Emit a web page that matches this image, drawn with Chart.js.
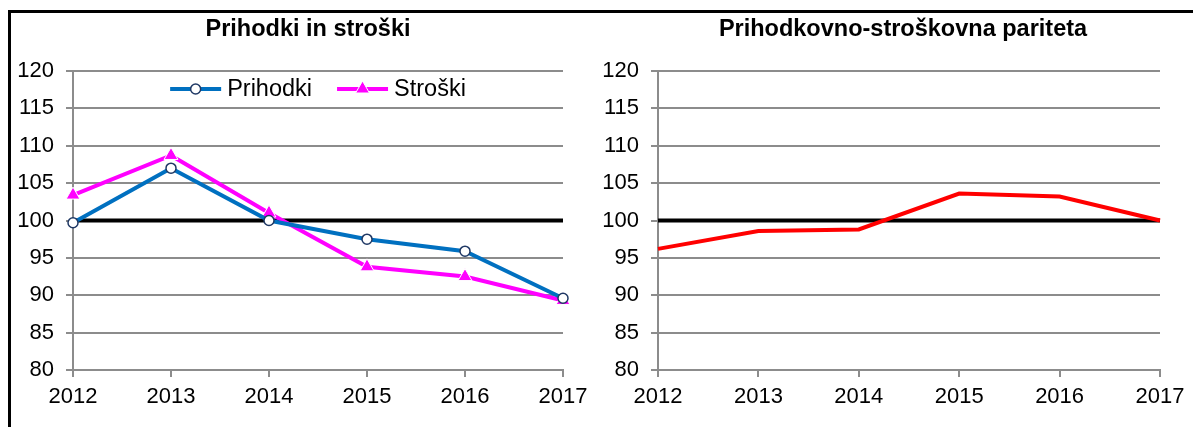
<!DOCTYPE html>
<html>
<head>
<meta charset="utf-8">
<script src="https://cdn.jsdelivr.net/npm/chart.js@4.4.1/dist/chart.umd.min.js"></script>
<style>
  body { margin: 0; width: 1193px; height: 427px; overflow: hidden; background: #fff; position: relative;
         font-family: "Liberation Sans", Arial, sans-serif; }
  .frame { position: absolute; left: 8px; top: 10px; width: 1200px; height: 440px; border: 3px solid #000; box-sizing: border-box; }
  .title { position: absolute; top: 15px; line-height: 26px; font-size: 23.5px; font-weight: bold; color: #000;
           transform: translateX(-50%); white-space: nowrap; }
  .box { position: absolute; top: 0; height: 427px; }
</style>
</head>
<body>
<div class="frame"></div>
<div class="box" style="left:0; width:596px;"><canvas id="leftChart"></canvas></div>
<div class="box" style="left:596px; width:597px;"><canvas id="rightChart"></canvas></div>
<div class="title" style="left:308px;">Prihodki in stroški</div>
<div class="title" style="left:903px;">Prihodkovno-stroškovna pariteta</div>
<script>
// values
const years = ['2012', '2013', '2014', '2015', '2016', '2017'];
const prihodki = [99.7, 107.0, 100.0, 97.5, 95.9, 89.6];
const stroski = [103.4, 108.7, 101.0, 93.8, 92.5, 89.3];
const pariteta = [96.2, 98.6, 98.8, 103.6, 103.2, 100.0];
const yMin = 80, yMax = 120, yStep = 5;
const referenceLevel = 100;

const FONT = '"Liberation Sans", Arial, sans-serif';
const GRID = '#8c8c8c';

// thick black line at 100
const referenceLine = {
    id: 'referenceLine',
    beforeDatasetsDraw(chart) {
        const ctx = chart.ctx;
        const y = chart.scales.y.getPixelForValue(referenceLevel);
        ctx.save();
        ctx.strokeStyle = '#000';
        ctx.lineWidth = 4;
        ctx.beginPath();
        ctx.moveTo(chart.chartArea.left, y);
        ctx.lineTo(chart.chartArea.right, y);
        ctx.stroke();
        ctx.restore();
    }
};

function drawMarker(ctx, ds, x, y) {
    const r = ds.pointRadius;
    ctx.fillStyle = ds.pointBackgroundColor;
    ctx.strokeStyle = ds.pointBorderColor;
    ctx.lineWidth = ds.pointBorderWidth;
    ctx.beginPath();
    if (ds.pointStyle === 'triangle') {
        for (let k = 0; k < 3; k++) {
            const a = -Math.PI / 2 + k * 2 * Math.PI / 3;
            const px = x + Math.cos(a) * r, py = y + Math.sin(a) * r;
            if (k === 0) ctx.moveTo(px, py); else ctx.lineTo(px, py);
        }
        ctx.closePath();
    } else {
        ctx.arc(x, y, r, 0, Math.PI * 2);
    }
    ctx.fill();
    if (ds.pointBorderWidth > 0) ctx.stroke();
}

// legend inside the plot: line + marker + label
const lineLegend = {
    id: 'lineLegend',
    afterDraw(chart) {
        const ctx = chart.ctx;
        const area = chart.chartArea;
        const sets = chart.data.datasets;
        const lineLen = 51, textGap = 6, itemGap = 25;
        ctx.save();
        ctx.font = '23.5px ' + FONT;
        const widths = sets.map(ds => lineLen + textGap + ctx.measureText(ds.label).width);
        const total = widths.reduce((a, b) => a + b, 0) + itemGap * (sets.length - 1);
        let x = (area.left + area.right) / 2 - total / 2;
        const y = area.top + 18;
        sets.forEach((ds, i) => {
            ctx.strokeStyle = ds.borderColor;
            ctx.lineWidth = ds.borderWidth;
            ctx.beginPath();
            ctx.moveTo(x, y);
            ctx.lineTo(x + lineLen, y);
            ctx.stroke();
            drawMarker(ctx, ds, x + lineLen / 2, y);
            ctx.fillStyle = '#000';
            ctx.textBaseline = 'middle';
            ctx.textAlign = 'left';
            ctx.fillText(ds.label, x + lineLen + textGap, y + 1);
            x += widths[i] + itemGap;
        });
        ctx.restore();
    }
};

function makeChart(id, datasets, axisWidth, plugins) {
    return new Chart(document.getElementById(id), {
        type: 'line',
        data: { labels: years, datasets: datasets },
        options: {
            responsive: true,
            maintainAspectRatio: false,
            animation: false,
            layout: { padding: { top: 71, right: 33, bottom: 0, left: 0 } },
            plugins: { legend: { display: false }, tooltip: { enabled: false }, title: { display: false } },
            scales: {
                x: {
                    offset: false,
                    grid: { drawOnChartArea: false, color: GRID, lineWidth: 2, tickLength: 7 },
                    border: { color: GRID, width: 2 },
                    ticks: { color: '#000', font: { family: FONT, size: 22 }, padding: 7, maxRotation: 0 },
                    afterFit(scale) { scale.height = 57; }
                },
                y: {
                    min: yMin,
                    max: yMax,
                    ticks: { stepSize: yStep, color: '#000', font: { family: FONT, size: 22 }, padding: 12 },
                    grid: { color: GRID, lineWidth: 2, tickLength: 7 },
                    border: { color: GRID, width: 2 },
                    afterFit(scale) { scale.width = axisWidth; }
                }
            }
        },
        plugins: plugins
    });
}

makeChart('leftChart', [
    {
        label: 'Prihodki',
        data: prihodki,
        borderColor: '#0070c0',
        borderWidth: 4,
        pointStyle: 'circle',
        pointRadius: 5,
        pointBackgroundColor: '#fff',
        pointBorderColor: '#1f3864',
        pointBorderWidth: 1.5,
        tension: 0,
        clip: false
    },
    {
        label: 'Stroški',
        data: stroski,
        borderColor: '#ff00ff',
        borderWidth: 4,
        pointStyle: 'triangle',
        pointRadius: 8,
        pointBackgroundColor: '#ff00ff',
        pointBorderColor: '#fff',
        pointBorderWidth: 1,
        tension: 0,
        clip: false
    }
], 73, [referenceLine, lineLegend]);

makeChart('rightChart', [
    {
        label: 'Pariteta',
        data: pariteta,
        borderColor: '#ff0000',
        borderWidth: 4,
        pointRadius: 0,
        tension: 0,
        clip: false
    }
], 62, [referenceLine]);
</script>
</body>
</html>
